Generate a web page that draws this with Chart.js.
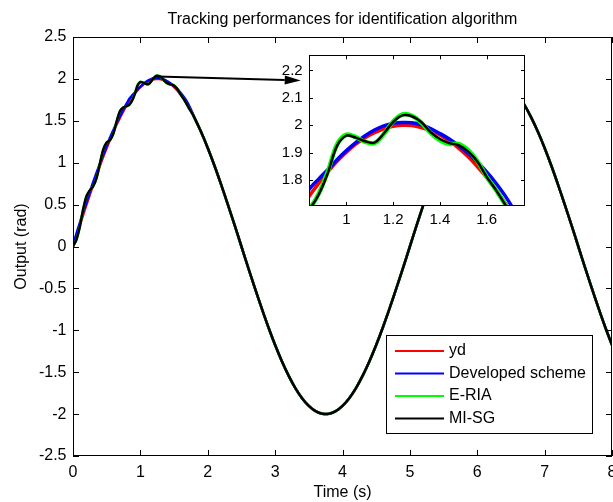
<!DOCTYPE html>
<html>
<head>
<meta charset="utf-8">
<script src="https://cdn.jsdelivr.net/npm/chart.js@4.4.1/dist/chart.umd.min.js"></script>
<style>
  html, body { margin: 0; padding: 0; background: #fff; overflow: hidden; width: 613px; height: 502px; }
  #wrap { position: relative; width: 613px; height: 502px; overflow: hidden; }
  #main { position: absolute; left: 0; top: 0; }
  #zoom { position: absolute; left: 270px; top: 40px; }
</style>
</head>
<body>
<div id="wrap">
  <canvas id="main" width="640" height="502"></canvas>
  <canvas id="zoom" width="270" height="200"></canvas>
</div>
<script>
// ---- data -------------------------------------------------------------
const chartTitle = 'Tracking performances for identification algorithm';
const xTitle = 'Time (s)';
const yTitle = 'Output (rad)';

const seriesNames = ['yd', 'Developed scheme', 'E-RIA', 'MI-SG'];
const seriesColors = ['#ff0000', '#0000ff', '#00ff00', '#000000'];

// sample times: fine steps around the first peak, 0.1 s afterwards
const headTimes = [0, 0.05, 0.1, 0.15, 0.2, 0.25, 0.3, 0.35, 0.4, 0.45, 0.5, 0.55, 0.6, 0.65, 0.7, 0.75, 0.8,
  0.84, 0.88, 0.92, 0.96, 1.0, 1.04, 1.08, 1.12, 1.16, 1.2, 1.24, 1.28, 1.32, 1.36, 1.4, 1.44, 1.48, 1.52,
  1.56, 1.6, 1.64, 1.68, 1.72, 1.76];
const tailTimes = [1.8, 1.9, 2.0, 2.1, 2.2, 2.3, 2.4, 2.5, 2.6, 2.7, 2.8, 2.9, 3.0, 3.1, 3.2, 3.3, 3.4, 3.5,
  3.6, 3.7, 3.8, 3.9, 4.0, 4.1, 4.2, 4.3, 4.4, 4.5, 4.6, 4.7, 4.8, 4.9, 5.0, 5.1, 5.2, 5.3, 5.4, 5.5, 5.6,
  5.7, 5.8, 5.9, 6.0, 6.1, 6.2, 6.3, 6.4, 6.5, 6.6, 6.7, 6.8, 6.9, 7.0, 7.1, 7.2, 7.3, 7.4, 7.5, 7.6, 7.7,
  7.8, 7.9, 8.0];

const ydHead = [0, 0.126, 0.251, 0.375, 0.497, 0.618, 0.736, 0.852, 0.964, 1.072, 1.176, 1.275, 1.369,
  1.458, 1.541, 1.618, 1.689,
  1.741, 1.787, 1.830, 1.869, 1.902, 1.931, 1.955, 1.973, 1.987, 1.996, 2.000, 1.999, 1.992, 1.981, 1.965,
  1.943, 1.917, 1.886, 1.850, 1.810, 1.765, 1.715, 1.661, 1.603];
const developedHead = [0.02, 0.15, 0.28, 0.41, 0.53, 0.65, 0.77, 0.88, 0.99, 1.10, 1.20, 1.30, 1.39,
  1.48, 1.56, 1.64, 1.71,
  1.766, 1.803, 1.838, 1.875, 1.908, 1.937, 1.962, 1.983, 1.998, 2.007, 2.010, 2.009, 2.002, 1.988, 1.970,
  1.950, 1.926, 1.898, 1.866, 1.830, 1.789, 1.742, 1.686, 1.618];
const eriaHead = [0, 0.08, 0.23, 0.44, 0.60, 0.67, 0.72, 0.82, 0.99, 1.16, 1.24, 1.27, 1.35,
  1.50, 1.62, 1.66, 1.675,
  1.695, 1.748, 1.830, 1.930, 1.966, 1.957, 1.940, 1.935, 1.968, 2.014, 2.040, 2.035, 2.010, 1.972, 1.945,
  1.932, 1.932, 1.910, 1.870, 1.812, 1.764, 1.710, 1.652, 1.600];
const misgHead = [0, 0.08, 0.23, 0.44, 0.60, 0.67, 0.72, 0.82, 0.99, 1.16, 1.24, 1.27, 1.35,
  1.50, 1.62, 1.66, 1.675,
  1.695, 1.745, 1.825, 1.925, 1.962, 1.955, 1.942, 1.937, 1.970, 2.012, 2.036, 2.033, 2.012, 1.975, 1.950,
  1.935, 1.928, 1.905, 1.868, 1.812, 1.764, 1.710, 1.652, 1.600];
// after the first peak all four outputs coincide
const sharedTail = [1.541, 1.369, 1.176, 0.964, 0.736, 0.497, 0.251, 0,
  -0.251, -0.497, -0.736, -0.964, -1.176, -1.369, -1.541, -1.689, -1.810, -1.902, -1.965, -1.996, -1.996,
  -1.965, -1.902, -1.810, -1.689, -1.541, -1.369, -1.176, -0.964, -0.736, -0.497, -0.251, 0,
  0.251, 0.497, 0.736, 0.964, 1.176, 1.369, 1.541, 1.689, 1.810, 1.902, 1.965, 1.996, 1.996,
  1.965, 1.902, 1.810, 1.689, 1.541, 1.369, 1.176, 0.964, 0.736, 0.497, 0.251, 0,
  -0.251, -0.497, -0.736, -0.964, -1.176];

const xTicks = [0, 1, 2, 3, 4, 5, 6, 7, 8];
const yTicks = [-2.5, -2, -1.5, -1, -0.5, 0, 0.5, 1, 1.5, 2, 2.5];
const zoomXRange = [0.84, 1.764];
const zoomYRange = [1.706, 2.255];
const zoomXTicks = [1, 1.2, 1.4, 1.6];
const zoomYTicks = [1.8, 1.9, 2, 2.1, 2.2];
// pointer from the first peak to the magnified view (time, output)
const arrowFrom = [1.25, 2.03];
const arrowTo = [3.38, 1.98];

// ---- helpers ------------------------------------------------------------
const FONT = '"Liberation Sans", Arial, Helvetica, sans-serif';
const heads = [ydHead, developedHead, eriaHead, misgHead];
const allTimes = headTimes.concat(tailTimes);
function seriesPoints(i) {
  const vals = heads[i].concat(sharedTail);
  return allTimes.map((t, k) => ({ x: t, y: vals[k] }));
}
const fmt = v => String(Math.round(v * 100) / 100);

function makeDatasets(widths) {
  return seriesNames.map((name, i) => ({
    label: name,
    data: seriesPoints(i),
    borderColor: seriesColors[i],
    backgroundColor: seriesColors[i],
    borderWidth: widths[i],
    pointRadius: 0,
    tension: 0.35,
    fill: false,
    order: seriesNames.length - 1 - i
  }));
}

// box around the plot with inward tick marks on all four sides
const framePlugin = {
  id: 'frame',
  afterDatasetsDraw(chart, args, opts) {
    const { ctx, chartArea: a, scales: { x, y } } = chart;
    const len = opts.tickLength || 5;
    ctx.save();
    ctx.strokeStyle = '#000';
    ctx.lineWidth = 1;
    ctx.beginPath();
    x.ticks.forEach(t => {
      const px = Math.round(x.getPixelForValue(t.value)) + 0.5;
      ctx.moveTo(px, a.bottom); ctx.lineTo(px, a.bottom - len);
      ctx.moveTo(px, a.top); ctx.lineTo(px, a.top + len);
    });
    y.ticks.forEach(t => {
      const py = Math.round(y.getPixelForValue(t.value)) + 0.5;
      ctx.moveTo(a.left, py); ctx.lineTo(a.left + len, py);
      ctx.moveTo(a.right, py); ctx.lineTo(a.right - len, py);
    });
    ctx.stroke();
    ctx.strokeRect(Math.round(a.left) + 0.5, Math.round(a.top) + 0.5,
      Math.round(a.right - a.left) - 1, Math.round(a.bottom - a.top) - 1);
    ctx.restore();
  }
};

// opaque plot background (used by the magnified view)
const plotBgPlugin = {
  id: 'plotBg',
  beforeDatasetsDraw(chart) {
    const { ctx, chartArea: a } = chart;
    ctx.save();
    ctx.fillStyle = '#fff';
    ctx.fillRect(a.left, a.top, a.right - a.left, a.bottom - a.top);
    ctx.restore();
  }
};

const arrowPlugin = {
  id: 'pointer',
  afterDatasetsDraw(chart, args, o) {
    const { ctx, scales: { x, y } } = chart;
    const x0 = x.getPixelForValue(o.from[0]), y0 = y.getPixelForValue(o.from[1]);
    const x1 = x.getPixelForValue(o.to[0]), y1 = y.getPixelForValue(o.to[1]);
    const ang = Math.atan2(y1 - y0, x1 - x0);
    const hl = 16, hw = 4.5;
    const bx = x1 - hl * Math.cos(ang), by = y1 - hl * Math.sin(ang);
    ctx.save();
    ctx.strokeStyle = '#000'; ctx.fillStyle = '#000'; ctx.lineWidth = 2;
    ctx.beginPath(); ctx.moveTo(x0, y0); ctx.lineTo(bx, by); ctx.stroke();
    ctx.beginPath();
    ctx.moveTo(x1, y1);
    ctx.lineTo(bx + hw * Math.sin(ang), by - hw * Math.cos(ang));
    ctx.lineTo(bx - hw * Math.sin(ang), by + hw * Math.cos(ang));
    ctx.closePath(); ctx.fill();
    ctx.restore();
  }
};

// boxed legend in the lower right corner of the plot
const boxLegendPlugin = {
  id: 'boxLegend',
  afterDraw(chart, args, o) {
    const { ctx, chartArea: a } = chart;
    const bx = Math.round(a.right - o.right - o.width), by = Math.round(a.bottom - o.bottom - o.height);
    ctx.save();
    ctx.fillStyle = '#fff';
    ctx.fillRect(bx, by, o.width, o.height);
    ctx.strokeStyle = '#000'; ctx.lineWidth = 1;
    ctx.strokeRect(bx + 0.5, by + 0.5, o.width, o.height);
    ctx.font = o.fontSize + 'px ' + FONT;
    ctx.textBaseline = 'middle';
    ctx.textAlign = 'left';
    chart.data.datasets.forEach((ds, i) => {
      const cy = by + o.firstRow + i * o.rowGap;
      ctx.strokeStyle = ds.borderColor; ctx.lineWidth = 2;
      ctx.beginPath(); ctx.moveTo(bx + o.lineStart, cy); ctx.lineTo(bx + o.lineEnd, cy); ctx.stroke();
      ctx.fillStyle = '#000';
      ctx.fillText(ds.label, bx + o.textStart, cy);
    });
    ctx.restore();
  }
};

// ---- main chart ---------------------------------------------------------
new Chart(document.getElementById('main'), {
  type: 'line',
  data: { datasets: makeDatasets([2.5, 2.5, 2.5, 2.5]) },
  options: {
    responsive: false, animation: false, devicePixelRatio: 1,
    layout: { padding: { left: 0, right: 28, top: 0, bottom: 0 } },
    plugins: {
      legend: { display: false },
      tooltip: { enabled: false },
      title: { display: true, fullSize: false, text: chartTitle, color: '#000',
        font: { family: FONT, size: 16, weight: 'normal' }, padding: { top: 10, bottom: 7.8 } },
      frame: { tickLength: 6 },
      pointer: { from: arrowFrom, to: arrowTo },
      boxLegend: { right: 20, bottom: 23, width: 206, height: 98, firstRow: 16, rowGap: 22.5,
        lineStart: 9, lineEnd: 58, textStart: 63, fontSize: 16 }
    },
    scales: {
      x: {
        type: 'linear', min: 0, max: 8,
        afterBuildTicks: s => { s.ticks = xTicks.map(v => ({ value: v })); },
        afterFit: s => { s.height = 46; },
        grid: { display: false, drawTicks: false }, border: { display: false },
        ticks: { color: '#000', padding: 6.6, maxRotation: 0, autoSkip: false,
          font: { family: FONT, size: 16 }, callback: fmt },
        title: { display: true, text: xTitle, color: '#000', font: { family: FONT, size: 16 },
          padding: { top: 0, bottom: 0 } }
      },
      y: {
        type: 'linear', min: -2.5, max: 2.5,
        afterBuildTicks: s => { s.ticks = yTicks.map(v => ({ value: v })); },
        afterFit: s => { s.width = 73; },
        grid: { display: false, drawTicks: false }, border: { display: false },
        ticks: { color: '#000', padding: 6.5, autoSkip: false,
          font: { family: FONT, size: 16 }, callback: fmt },
        title: { display: true, text: yTitle, color: '#000', font: { family: FONT, size: 16 },
          padding: { top: 12, bottom: 0 } }
      }
    }
  },
  plugins: [framePlugin, arrowPlugin, boxLegendPlugin]
});

// ---- magnified view of the first peak ----------------------------------
new Chart(document.getElementById('zoom'), {
  type: 'line',
  data: { datasets: makeDatasets([3.5, 3.5, 4.5, 2.5]) },
  options: {
    responsive: false, animation: false, devicePixelRatio: 1,
    layout: { padding: { left: 0, right: 15, top: 8, bottom: 0 } },
    plugins: {
      legend: { display: false },
      tooltip: { enabled: false },
      title: { display: false },
      frame: { tickLength: 4 }
    },
    scales: {
      x: {
        type: 'linear', min: zoomXRange[0], max: zoomXRange[1],
        afterBuildTicks: s => { s.ticks = zoomXTicks.map(v => ({ value: v })); },
        afterFit: s => { s.height = 34; },
        grid: { display: false, drawTicks: false }, border: { display: false },
        ticks: { color: '#000', padding: 4.5, maxRotation: 0, autoSkip: false,
          font: { family: FONT, size: 15 }, callback: fmt }
      },
      y: {
        type: 'linear', min: zoomYRange[0], max: zoomYRange[1],
        afterBuildTicks: s => { s.ticks = zoomYTicks.map(v => ({ value: v })); },
        afterFit: s => { s.width = 39; },
        grid: { display: false, drawTicks: false }, border: { display: false },
        ticks: { color: '#000', padding: 6.3, autoSkip: false,
          font: { family: FONT, size: 15 }, callback: fmt }
      }
    }
  },
  plugins: [plotBgPlugin, framePlugin]
});
</script>
</body>
</html>
